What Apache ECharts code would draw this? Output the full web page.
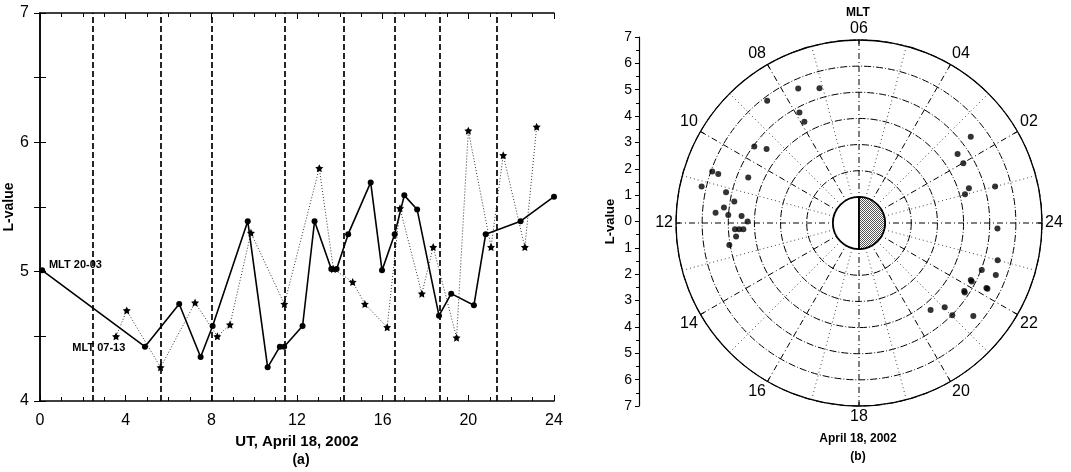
<!DOCTYPE html>
<html>
<head>
<meta charset="utf-8">
<script src="https://cdn.jsdelivr.net/npm/echarts@6/dist/echarts.min.js"></script>
<style>
  html, body { margin: 0; padding: 0; background: #fff; }
  #main { width: 1071px; height: 472px; }
</style>
</head>
<body>
<div id="main"></div>
<script>
// (a) L-value vs UT, solid line with dots (MLT 20-03)
var solidUT = [0.1, 4.9, 6.5, 7.5, 8.06, 9.7, 10.63, 11.2, 11.4, 12.26, 12.82, 13.6, 13.85, 14.39, 15.44, 15.97, 16.56, 17.01, 17.61, 18.63, 19.2, 20.26, 20.81, 22.44, 24.0];
var solidL = [5.01, 4.42, 4.75, 4.34, 4.58, 5.39, 4.26, 4.42, 4.42, 4.58, 5.39, 5.02, 5.02, 5.29, 5.69, 5.01, 5.29, 5.59, 5.48, 4.66, 4.83, 4.74, 5.29, 5.39, 5.58];

// dotted line with stars (MLT 07-13)
var starUT = [3.55, 4.05, 5.63, 7.24, 8.28, 8.87, 9.85, 11.41, 13.04, 13.7, 14.6, 15.17, 16.21, 16.81, 17.83, 18.36, 19.45, 20.0, 21.06, 21.63, 22.64, 23.19];
var starL = [4.50, 4.70, 4.26, 4.76, 4.50, 4.59, 5.30, 4.75, 5.80, 5.02, 4.92, 4.75, 4.57, 5.49, 4.83, 5.19, 4.49, 6.09, 5.19, 5.90, 5.19, 6.12];

// vertical dashed lines (UT)
var boundaries = [2.46, 5.65, 8.04, 11.44, 14.2, 16.57, 18.67, 21.32];

// (b) polar plot: L-value and MLT of each point
var polarL = [5.65, 5.37, 5.85, 4.80, 4.40, 4.96, 4.53, 5.95, 5.70, 4.58, 6.18, 5.22, 4.84, 5.20, 5.50, 5.01, 4.50, 4.26, 4.75, 4.59, 4.43, 4.73, 5.03,
              5.40, 4.60, 4.60, 5.39, 4.41, 4.20, 5.30, 5.49, 5.03, 5.60, 4.80, 4.86, 5.47, 5.52, 4.79, 4.84, 4.31, 4.60, 5.02, 5.64];
var polarMLT = [7.62, 7.09, 8.46, 7.89, 7.89, 9.59, 9.42, 10.71, 10.72, 10.51, 11.13, 11.13, 11.35, 11.56, 11.73, 11.77, 11.77, 11.95, 12.19, 12.2, 12.21, 12.42, 12.64,
                2.51, 2.33, 1.99, 1.0, 1.17, 1.01, 23.85, 23.0, 22.6, 22.61, 22.2, 22.17, 22.2, 22.19, 21.81, 21.78, 20.63, 21.03, 21.02, 21.39];

// earth: radius 1, day half (MLT 6-18) and night half (MLT 18-30)
var earthHalves = [[1, 6, 18, 'day'], [1, 18, 30, 'night']];

var FONT = 'Liberation Sans, Arial, sans-serif';
var starPath = 'path://M0,-10 L2.9,-4 L9.5,-3.1 L4.8,1.5 L5.9,8.1 L0,5 L-5.9,8.1 L-4.8,1.5 L-9.5,-3.1 L-2.9,-4 Z';

function pairs(xs, ys) {
    return xs.map(function (x, i) { return [x, ys[i]]; });
}

// cross-hatch pattern for the night side
var pat = document.createElement('canvas');
pat.width = 2; pat.height = 2;
var pctx = pat.getContext('2d');
pctx.fillStyle = '#fff';
pctx.fillRect(0, 0, 2, 2);
pctx.fillStyle = '#555';
pctx.fillRect(0, 0, 1, 1);
pctx.fillRect(1, 1, 1, 1);

var chartDom = document.getElementById('main');
var myChart = echarts.init(chartDom);
var option;

var axisBlack = { lineStyle: { color: '#000', width: 1.5 } };

option = {
    animation: false,
    backgroundColor: '#fff',
    textStyle: { fontFamily: FONT, color: '#000' },
    grid: [
        { left: 40, right: 517, top: 13, bottom: 71 },
        { left: 639, width: 1, top: 37, bottom: 66 }
    ],
    xAxis: [
        {
            gridIndex: 0, type: 'value', min: 0, max: 24, interval: 4,
            axisLine: axisBlack,
            axisTick: { inside: true, length: 6, lineStyle: { color: '#000' } },
            minorTick: { show: true, splitNumber: 4, length: 4, lineStyle: { color: '#000' } },
            axisLabel: { color: '#000', fontSize: 16, margin: 12 },
            splitLine: { show: false },
            name: 'UT, April 18, 2002', nameLocation: 'middle', nameGap: 33,
            nameTextStyle: { fontSize: 15, fontWeight: 'bold', color: '#000' }
        },
        {
            gridIndex: 0, type: 'value', min: 0, max: 24, interval: 4, position: 'top',
            axisLine: axisBlack,
            axisTick: { inside: true, length: 6, lineStyle: { color: '#000' } },
            minorTick: { show: true, splitNumber: 4, length: 4, lineStyle: { color: '#000' } },
            axisLabel: { show: false },
            splitLine: { show: false }
        },
        {
            gridIndex: 1, type: 'value', show: false
        }
    ],
    yAxis: [
        {
            gridIndex: 0, type: 'value', min: 4, max: 7, interval: 1,
            axisLine: axisBlack,
            axisTick: { inside: true, length: 6, lineStyle: { color: '#000' } },
            minorTick: { show: true, splitNumber: 2, length: 6, lineStyle: { color: '#000' } },
            axisLabel: { color: '#000', fontSize: 16, margin: 11 },
            splitLine: { show: false },
            name: 'L-value', nameLocation: 'middle', nameGap: 20,
            nameTextStyle: { fontSize: 14, fontWeight: 'bold', color: '#000' }
        },
        {
            gridIndex: 0, type: 'value', min: 4, max: 7, interval: 1, position: 'right',
            axisLine: axisBlack,
            axisTick: { inside: true, length: 6, lineStyle: { color: '#000' } },
            minorTick: { show: true, splitNumber: 2, length: 6, lineStyle: { color: '#000' } },
            axisLabel: { show: false },
            splitLine: { show: false }
        },
        {
            gridIndex: 1, type: 'value', min: -7, max: 7, interval: 1,
            axisLine: { lineStyle: { color: '#000', width: 1.2 } },
            axisTick: { length: 4, lineStyle: { color: '#000' } },
            minorTick: { show: true, splitNumber: 2, length: 3, lineStyle: { color: '#000' } },
            axisLabel: {
                color: '#000', fontSize: 14, margin: 7,
                formatter: function (v) { return String(Math.abs(v)); }
            },
            splitLine: { show: false },
            name: 'L-value', nameLocation: 'middle', nameGap: 22,
            nameTextStyle: { fontSize: 13, fontWeight: 'bold', color: '#000' }
        }
    ],
    polar: {
        center: [859, 223],
        radius: [0, 183]
    },
    radiusAxis: {
        type: 'value', min: 0, max: 7, interval: 1,
        axisLine: { show: false },
        axisTick: { show: false },
        axisLabel: { show: false },
        splitLine: { show: true, lineStyle: { color: '#000', width: 1, type: [7, 2, 1, 2] } }
    },
    angleAxis: {
        type: 'value', min: 0, max: 24, interval: 2,
        startAngle: 0, clockwise: false,
        axisLine: { lineStyle: { color: '#000', width: 1.3 } },
        axisTick: { show: true, inside: true, length: 4, lineStyle: { color: '#000' } },
        minorTick: { show: false, splitNumber: 2 },
        axisLabel: {
            color: '#000', fontSize: 16, margin: 3,
            formatter: function (v) {
                var h = v % 24 === 0 ? 24 : v;
                return h < 10 ? '0' + h : String(h);
            }
        },
        splitLine: { show: true, lineStyle: { color: '#000', width: 1, type: [6, 3, 1, 3] } },
        minorSplitLine: { show: true, lineStyle: { color: '#444', width: 1, type: [1, 3] } }
    },
    series: [
        {
            name: 'MLT 20-03',
            type: 'line',
            xAxisIndex: 0, yAxisIndex: 0,
            data: pairs(solidUT, solidL),
            symbol: 'circle', symbolSize: 6,
            itemStyle: { color: '#000' },
            lineStyle: { color: '#000', width: 1.6 },
            z: 4,
            markLine: {
                silent: true, symbol: 'none',
                label: { show: false },
                lineStyle: { color: '#000', width: 1.7, type: [6, 3] },
                data: boundaries.map(function (v) { return { xAxis: v }; })
            },
            markPoint: {
                symbol: 'circle', symbolSize: 1,
                itemStyle: { color: 'rgba(0,0,0,0)' },
                label: {
                    show: true, position: 'right', distance: 2,
                    fontSize: 11, fontWeight: 'bold', color: '#000',
                    formatter: '{b}'
                },
                data: [{ name: 'MLT 20-03', coord: [0.3, 5.05] }]
            }
        },
        {
            name: 'MLT 07-13',
            type: 'line',
            xAxisIndex: 0, yAxisIndex: 0,
            data: pairs(starUT, starL),
            symbol: starPath, symbolSize: 8,
            itemStyle: { color: '#000' },
            lineStyle: { color: '#333', width: 1, type: [1, 2] },
            z: 3,
            markPoint: {
                symbol: 'circle', symbolSize: 1,
                itemStyle: { color: 'rgba(0,0,0,0)' },
                label: {
                    show: true, position: 'left', distance: 2,
                    fontSize: 11, fontWeight: 'bold', color: '#000',
                    formatter: '{b}'
                },
                data: [{ name: 'MLT 07-13', coord: [4.1, 4.41] }]
            }
        },
        {
            name: 'Earth',
            type: 'custom',
            coordinateSystem: 'polar',
            data: earthHalves,
            z: 5,
            renderItem: function (params, api) {
                var c = api.coord([0, 0]);
                var r = api.value(0);
                var p1 = api.coord([r, api.value(1)]);
                var p2 = api.coord([r, api.value(2)]);
                var rad = Math.sqrt(Math.pow(p1[0] - c[0], 2) + Math.pow(p1[1] - c[1], 2));
                var a1 = Math.atan2(p1[1] - c[1], p1[0] - c[0]);
                var a2 = Math.atan2(p2[1] - c[1], p2[0] - c[0]);
                var night = api.value(3) === 'night';
                return {
                    type: 'sector',
                    shape: { cx: c[0], cy: c[1], r0: 0, r: rad, startAngle: a1, endAngle: a2, clockwise: false },
                    style: {
                        fill: night ? { image: pat, repeat: 'repeat' } : '#fff',
                        stroke: '#000',
                        lineWidth: 1.8
                    }
                };
            }
        },
        {
            name: 'Points',
            type: 'scatter',
            coordinateSystem: 'polar',
            data: pairs(polarL, polarMLT),
            symbol: 'circle', symbolSize: 6,
            itemStyle: { color: '#000' },
            z: 6
        }
    ],
    graphic: [
        { type: 'text', x: 301, y: 460, style: { text: '(a)', font: 'bold 14px ' + FONT, fill: '#000', textAlign: 'center', textVerticalAlign: 'middle' } },
        { type: 'text', x: 858, y: 13, style: { text: 'MLT', font: 'bold 12px ' + FONT, fill: '#000', textAlign: 'center', textVerticalAlign: 'middle' } },
        { type: 'text', x: 858, y: 439, style: { text: 'April 18, 2002', font: 'bold 12px ' + FONT, fill: '#000', textAlign: 'center', textVerticalAlign: 'middle' } },
        { type: 'text', x: 858, y: 457, style: { text: '(b)', font: 'bold 12px ' + FONT, fill: '#000', textAlign: 'center', textVerticalAlign: 'middle' } }
    ]
};

option && myChart.setOption(option);
</script>
</body>
</html>
